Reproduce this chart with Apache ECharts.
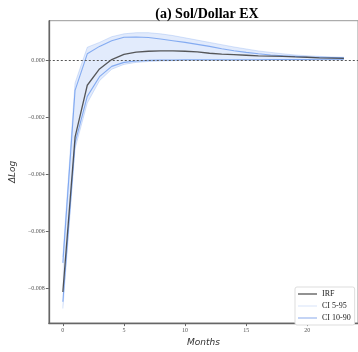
<!DOCTYPE html>
<html>
<head>
<meta charset="utf-8">
<script src="https://cdn.jsdelivr.net/npm/echarts@6/dist/echarts.min.js"></script>
<style>
  html, body { margin: 0; padding: 0; background: #fff; }
  #chart { width: 358px; height: 352px; }
</style>
</head>
<body>
<div id="chart"></div>
<script>
// Impulse response of the Sol/Dollar exchange rate (change in log), by month
const months = [0, 1, 2, 3, 4, 5, 6, 7, 8, 9, 10, 11, 12, 13, 14, 15, 16, 17, 18, 19, 20, 21, 22, 23];
const irf = [-0.00812, -0.0027, -0.00088, -0.00031, 0.00002, 0.00020, 0.00028, 0.00031, 0.00032, 0.00032,
  0.00031, 0.00029, 0.00024, 0.00021, 0.00019, 0.00017, 0.00015, 0.00014, 0.00013, 0.00011, 0.00010, 0.00008, 0.00007, 0.00006];
const ci95Upper = [-0.0069, -0.0008, 0.00045, 0.00062, 0.00082, 0.00092, 0.00096, 0.00096, 0.00092, 0.00086,
  0.00078, 0.00070, 0.00062, 0.00054, 0.00046, 0.00039, 0.00032, 0.00027, 0.00022, 0.00018, 0.00015, 0.00013, 0.00011, 0.00010];
const ci95Lower = [-0.0087, -0.0031, -0.0015, -0.00072, -0.00032, -0.00015, -0.00008, -0.00005, -0.00003, -0.00002,
  -0.00001, -0.00001, -0.00001, -0.00001, -0.00001, 0.0, 0.0, 0.0, 0.0, 0.0, 0.0, 0.00001, 0.00001, 0.00001];
const ci90Upper = [-0.0071, -0.00106, 0.00022, 0.00048, 0.00068, 0.00080, 0.00081, 0.00079, 0.00074, 0.00068,
  0.00062, 0.00055, 0.00048, 0.00040, 0.00033, 0.00027, 0.00022, 0.00018, 0.00015, 0.00013, 0.00011, 0.00010, 0.00009, 0.00008];
const ci90Lower = [-0.00846, -0.0029, -0.00127, -0.00058, -0.00022, -0.00008, -0.00003, -0.00001, 0.0, 0.0,
  0.00001, 0.00001, 0.00001, 0.00001, 0.00001, 0.00001, 0.00001, 0.00002, 0.00002, 0.00002, 0.00002, 0.00003, 0.00003, 0.00003];
const xTicks = [0, 5, 10, 15, 20];
const yTicks = [-0.008, -0.006, -0.004, -0.002, 0];

const pairs = arr => months.map((m, i) => [m, arr[i]]);

const chart = echarts.init(document.getElementById('chart'), null, { renderer: 'canvas' });
chart.setOption({
  animation: false,
  backgroundColor: '#fff',
  title: {
    text: '(a) Sol/Dollar EX',
    left: 202, top: 2, textAlign: 'center',
    textStyle: { fontFamily: 'Liberation Serif', fontWeight: 'bold', fontSize: 14, color: '#000' }
  },
  grid: {
    left: 44, top: 20.7, width: 315, height: 309.3,
    show: true, borderColor: '#999', borderWidth: 1, backgroundColor: 'transparent'
  },
  xAxis: {
    type: 'value', min: -1.15, max: 24.15,
    name: 'Months', nameLocation: 'middle', nameGap: 13,
    nameTextStyle: { fontFamily: 'DejaVu Sans', fontStyle: 'italic', fontSize: 9, color: '#333' },
    splitLine: { show: false },
    axisLine: { show: true, onZero: false, lineStyle: { color: '#666', width: 1.3 } },
    axisTick: { show: true, length: 3, customValues: xTicks, lineStyle: { color: '#666' } },
    axisLabel: { customValues: xTicks, fontFamily: 'Liberation Serif', fontSize: 6, color: '#555', margin: 4 }
  },
  yAxis: {
    type: 'value', min: -0.00921, max: 0.00138,
    name: 'ΔLog', nameLocation: 'middle', nameGap: 30, nameRotate: 90,
    nameTextStyle: { fontFamily: 'DejaVu Sans', fontStyle: 'italic', fontSize: 9, color: '#333' },
    splitLine: { show: false },
    axisLine: { show: true, onZero: false, lineStyle: { color: '#666', width: 1.3 } },
    axisTick: { show: true, length: 3, customValues: yTicks, lineStyle: { color: '#666' } },
    axisLabel: {
      customValues: yTicks, fontFamily: 'Liberation Serif', fontSize: 6, color: '#555', margin: 4,
      formatter: v => (Math.abs(v) < 1e-9 ? '0.000' : '\u2212' + Math.abs(v).toFixed(3))
    }
  },
  legend: {
    orient: 'vertical', left: 295, top: 287,
    padding: [3, 4, 3, 3], itemGap: 4, itemWidth: 19, itemHeight: 8,
    backgroundColor: '#fff', borderColor: '#ddd', borderWidth: 1, borderRadius: 2,
    textStyle: { fontFamily: 'Liberation Serif', fontSize: 8, color: '#222' },
    data: [
      { name: 'IRF', icon: 'path://M0,4 L19,4 L19,5.6 L0,5.6 Z', itemStyle: { color: '#777' } },
      { name: 'CI 5-95', icon: 'path://M0,4 L19,4 L19,5 L0,5 Z', itemStyle: { color: '#d6e2f8' } },
      { name: 'CI 10-90', icon: 'path://M0,4 L19,4 L19,5.2 L0,5.2 Z', itemStyle: { color: '#9db8ef' } }
    ]
  },
  series: [
    {
      // shaded 5-95 band
      name: 'CI 5-95', type: 'custom', z: 1, silent: true,
      data: [[0, 0]],
      renderItem: (params, api) => {
        const pts = [];
        months.forEach((m, i) => pts.push(api.coord([m, ci95Upper[i]])));
        for (let i = months.length - 1; i >= 0; i--) pts.push(api.coord([months[i], ci95Lower[i]]));
        return { type: 'polygon', shape: { points: pts }, style: { fill: 'rgba(100,149,237,0.19)' } };
      }
    },
    {
      name: 'CI 5-95', type: 'line', data: pairs(ci95Upper), showSymbol: false, z: 2,
      lineStyle: { color: 'rgba(100,149,237,0.25)', width: 1 }, itemStyle: { color: '#d6e2f8' }
    },
    {
      name: 'CI 5-95', type: 'line', data: pairs(ci95Lower), showSymbol: false, z: 2,
      lineStyle: { color: 'rgba(100,149,237,0.25)', width: 1 }, itemStyle: { color: '#d6e2f8' }
    },
    {
      name: 'CI 10-90', type: 'line', data: pairs(ci90Upper), showSymbol: false, z: 3,
      lineStyle: { color: 'rgba(100,149,237,0.75)', width: 1.1 }, itemStyle: { color: '#9db8ef' }
    },
    {
      name: 'CI 10-90', type: 'line', data: pairs(ci90Lower), showSymbol: false, z: 3,
      lineStyle: { color: 'rgba(100,149,237,0.75)', width: 1.1 }, itemStyle: { color: '#9db8ef' }
    },
    {
      name: 'IRF', type: 'line', data: pairs(irf), showSymbol: false, z: 4,
      lineStyle: { color: 'rgba(60,60,60,0.85)', width: 1.3 }, itemStyle: { color: '#777' },
      markLine: {
        silent: true, symbol: 'none', label: { show: false },
        lineStyle: { color: '#555', type: [2, 2], width: 1 },
        data: [{ yAxis: 0 }]
      }
    }
  ]
});
</script>
</body>
</html>
